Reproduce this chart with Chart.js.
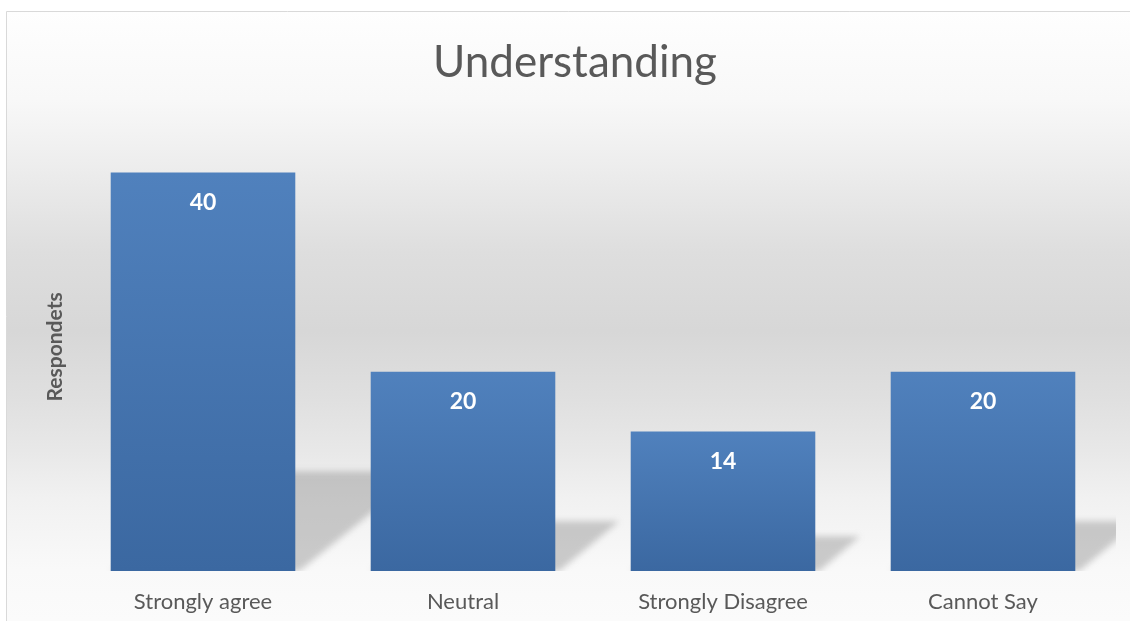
<!DOCTYPE html>
<html>
<head>
<meta charset="utf-8">
<script src="https://cdn.jsdelivr.net/npm/chart.js@4"></script>
<style>
  html, body { margin: 0; padding: 0; background: #fff; }
  #wrap { width: 1130px; height: 621px; }
</style>
</head>
<body>
<div id="wrap"><canvas id="myChart" width="1130" height="621"></canvas></div>
<script>
const categories = ['Strongly agree', 'Neutral', 'Strongly Disagree', 'Cannot Say']
const respondents = [40, 20, 14, 20]
const chartTitle = 'Understanding'
const yTitle = 'Respondets'

// background panel with border and vertical gradient
const panelBg = {
  id: 'panelBg',
  beforeDraw(chart) {
    const ctx = chart.ctx
    ctx.save()
    ctx.fillStyle = '#ffffff'
    ctx.fillRect(0, 0, chart.width, chart.height)
    const g = ctx.createLinearGradient(0, 11, 0, chart.height)
    g.addColorStop(0, '#fefefe')
    g.addColorStop(0.146, '#f8f8f8')
    g.addColorStop(0.245, '#eeeeee')
    g.addColorStop(0.394, '#dedede')
    g.addColorStop(0.525, '#d7d7d7')
    g.addColorStop(0.64, '#e0e0e0')
    g.addColorStop(0.72, '#e8e8e8')
    g.addColorStop(0.80, '#f1f1f1')
    g.addColorStop(0.915, '#f9f9f9')
    g.addColorStop(1, '#fbfbfb')
    ctx.fillStyle = g
    ctx.fillRect(7, 12, chart.width - 7, chart.height - 12)
    ctx.strokeStyle = '#d9d9d9'
    ctx.lineWidth = 1
    ctx.beginPath()
    ctx.moveTo(6.5, chart.height)
    ctx.lineTo(6.5, 11.5)
    ctx.lineTo(chart.width, 11.5)
    ctx.stroke()
    ctx.restore()
  }
}

// perspective floor shadows behind the bars
const barShadows = {
  id: 'barShadows',
  beforeDatasetsDraw(chart) {
    const ctx = chart.ctx
    const area = chart.chartArea
    const meta = chart.getDatasetMeta(0)
    ctx.save()
    ctx.beginPath()
    ctx.rect(area.left, area.top, 1116 - area.left, area.bottom - area.top)
    ctx.clip()
    ctx.filter = 'blur(3px)'
    ctx.fillStyle = 'rgba(120,120,120,0.36)'
    meta.data.forEach(bar => {
      const h = bar.base - bar.y
      const x0 = bar.x - bar.width / 2
      const x1 = bar.x + bar.width / 2
      const sh = h * 0.25
      const dx = h * 0.32
      ctx.beginPath()
      ctx.moveTo(x0, bar.base)
      ctx.lineTo(x1 + 4, bar.base)
      ctx.lineTo(x1 + dx, bar.base - sh)
      ctx.lineTo(x0 + dx, bar.base - sh)
      ctx.closePath()
      ctx.fill()
    })
    ctx.restore()
  }
}

// value labels inside the top of each bar
const valueLabels = {
  id: 'valueLabels',
  afterDatasetsDraw(chart) {
    const ctx = chart.ctx
    const meta = chart.getDatasetMeta(0)
    ctx.save()
    ctx.fillStyle = '#ffffff'
    ctx.font = 'bold 23px Lato'
    ctx.textAlign = 'center'
    ctx.textBaseline = 'middle'
    meta.data.forEach((bar, i) => {
      ctx.fillText(String(respondents[i]), bar.x, bar.y + 30)
    })
    ctx.restore()
  }
}

const ctx = document.getElementById('myChart').getContext('2d')
const data = {
  labels: categories,
  datasets: [
    {
      label: yTitle,
      data: respondents,
      barPercentage: 0.71,
      categoryPercentage: 1,
      backgroundColor: (c) => {
        const chart = c.chart
        const y = chart.scales && chart.scales.y
        if (!y || !chart.chartArea) return '#4a7ab6'
        const top = y.getPixelForValue(respondents[c.dataIndex])
        const bottom = y.getPixelForValue(0)
        const g = chart.ctx.createLinearGradient(0, top, 0, bottom)
        g.addColorStop(0, '#5081bd')
        g.addColorStop(1, '#3b68a1')
        return g
      },
    },
  ],
}
const config = {
  type: 'bar',
  data: data,
  plugins: [panelBg, barShadows, valueLabels],
  options: {
    responsive: false,
    animation: false,
    layout: { padding: { left: 37, right: 17, top: 0, bottom: 0 } },
    plugins: {
      legend: { display: false },
      tooltip: { enabled: false },
      title: {
        display: true,
        text: chartTitle,
        color: '#595959',
        font: { family: 'Lato', size: 44, weight: 'normal', lineHeight: 1.2 },
        padding: { top: 36, bottom: 34 },
      },
    },
    scales: {
      x: {
        grid: { display: false },
        border: { display: false },
        ticks: {
          color: '#595959',
          font: { family: 'Lato', size: 22 },
          padding: 10,
        },
        afterFit(scale) { scale.height = 50 },
      },
      y: {
        min: 0,
        max: 45,
        grid: { display: false },
        border: { display: false },
        ticks: { display: false },
        title: {
          display: true,
          text: yTitle,
          color: '#595959',
          font: { family: 'Lato', size: 21, weight: 'bold' },
          padding: { top: 6, bottom: 0 },
        },
        afterFit(scale) { scale.width = 36 },
      },
    },
  },
}
const myChart = new Chart(ctx, config)
</script>
</body>
</html>
